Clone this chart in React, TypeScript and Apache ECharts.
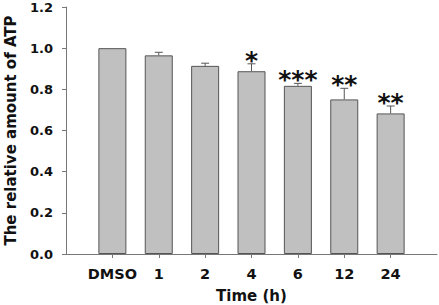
import React, { useEffect, useRef } from "react";
import * as echarts from "echarts";

// Empty slots at both ends keep the bars one band in from each axis end.
const categories = ["", "DMSO", "1", "2", "4", "6", "12", "24", ""];
const means = [null, 1.0, 0.965, 0.914, 0.888, 0.817, 0.751, 0.683, null];
const errors = [0, 0, 0.015, 0.013, 0.036, 0.012, 0.054, 0.036, 0];
const marks = ["", "", "", "", "*", "***", "**", "**", ""];
const yTicks = [0, 0.2, 0.4, 0.6, 0.8, 1.0, 1.2];

const FONT = "DejaVu Sans";

export default function App() {
  const ref = useRef<HTMLDivElement>(null);

  useEffect(() => {
    if (!ref.current) return;
    const chart = echarts.init(ref.current, null, { renderer: "svg" });

    const errData = means
      .map((m, i) => (m == null ? null : [i, m, errors[i], marks[i]]))
      .filter((d) => d !== null);

    chart.setOption({
      animation: false,
      backgroundColor: "#ffffff",
      grid: { left: 66, right: 2, top: 7, bottom: 51, outerBoundsMode: "none", containLabel: false },
      xAxis: {
        type: "category",
        data: categories,
        boundaryGap: false,
        name: "Time (h)",
        nameLocation: "middle",
        nameGap: 34,
        nameTextStyle: {
          fontFamily: FONT,
          fontWeight: "bold",
          fontSize: 15,
          lineHeight: 15,
          color: "#111",
        },
        axisLine: { lineStyle: { color: "#777", width: 1 } },
        axisTick: {
          length: 4,
          lineStyle: { color: "#777" },
          interval: (i: number) => i > 0 && i < categories.length - 1,
        },
        axisLabel: {
          interval: 0,
          margin: 12,
          fontFamily: FONT,
          fontWeight: "bold",
          fontSize: 14.5,
          color: "#111",
        },
        splitLine: { show: false },
      },
      yAxis: {
        type: "value",
        min: yTicks[0],
        max: yTicks[yTicks.length - 1],
        interval: 0.2,
        name: "The relative amount of ATP",
        nameLocation: "middle",
        nameRotate: 90,
        nameGap: 46,
        nameTextStyle: {
          fontFamily: FONT,
          fontWeight: "bold",
          fontSize: 15,
          lineHeight: 16,
          color: "#111",
        },
        axisLine: { show: true, lineStyle: { color: "#777", width: 1 } },
        axisTick: { show: true, length: 4, lineStyle: { color: "#777" } },
        axisLabel: {
          margin: 13,
          fontFamily: FONT,
          fontWeight: "bold",
          fontSize: 13,
          color: "#111",
          formatter: (v: number) => v.toFixed(1),
        },
        splitLine: { show: false },
      },
      series: [
        {
          type: "bar",
          data: means.map((m) => (m == null ? "-" : m)),
          barWidth: 28,
          itemStyle: { color: "#c0c0c0", borderColor: "#555", borderWidth: 1 },
        },
        {
          type: "custom",
          data: errData,
          z: 5,
          renderItem: (_params: any, api: any) => {
            const idx = api.value(0);
            const m = api.value(1);
            const e = api.value(2);
            const star = marks[idx];
            const base = api.coord([idx, m]);
            const top = api.coord([idx, m + e]);
            const children: any[] = [];
            if (e > 0) {
              children.push(
                {
                  type: "line",
                  shape: { x1: base[0], y1: base[1], x2: top[0], y2: top[1] },
                  style: { stroke: "#555", lineWidth: 1 },
                },
                {
                  type: "line",
                  shape: { x1: top[0] - 4, y1: top[1], x2: top[0] + 4, y2: top[1] },
                  style: { stroke: "#555", lineWidth: 1 },
                }
              );
            }
            if (star) {
              children.push({
                type: "text",
                x: top[0],
                y: top[1] - 16,
                style: {
                  text: star,
                  fontFamily: FONT,
                  fontWeight: "bold",
                  fontSize: 25,
                  fill: "#111",
                  align: "center",
                  verticalAlign: "top",
                },
              });
            }
            return { type: "group", children };
          },
        },
      ],
    });

    return () => chart.dispose();
  }, []);

  return (
    <div
      ref={ref}
      style={{ position: "fixed", left: 0, top: 0, width: 439, height: 305 }}
    />
  );
}
